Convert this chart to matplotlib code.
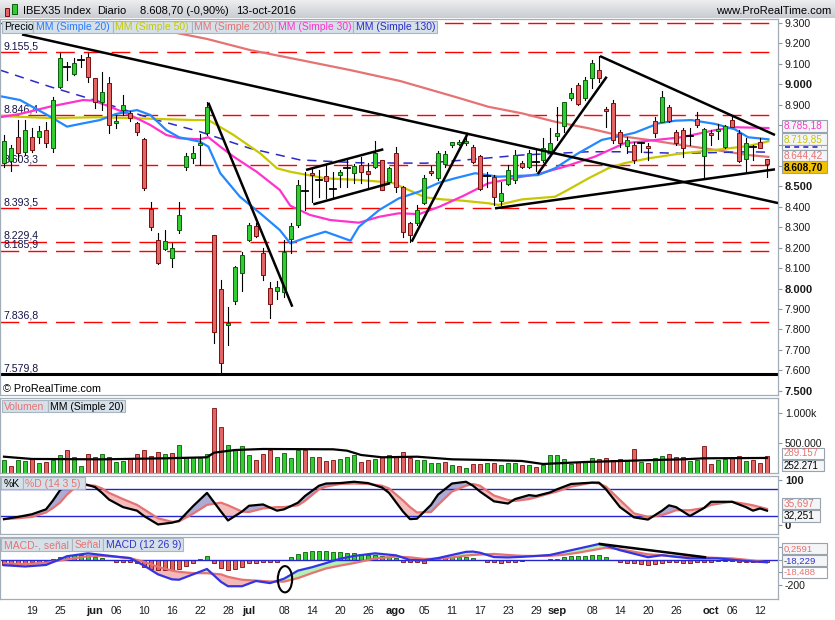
import matplotlib
matplotlib.use('Agg')
import matplotlib.pyplot as plt
from matplotlib.patches import Rectangle, Ellipse
from matplotlib.colors import LinearSegmentedColormap
import numpy as np
import pandas as pd

plt.rcParams['font.family'] = ['Liberation Sans', 'DejaVu Sans']

# ---------------- DATA ----------------
dates = pd.bdate_range('2016-05-13', '2016-10-13')

opens = [8613,8626,8743,8670,8743,8740,8776,8686,8988,9088,
         9050,9115,9134,9028,8914,9004,8808,8873,8857,8808,
         8732,8389,8237,8193,8148,8286,8593,8637,8700,8759,
         8262,8000,7820,7940,8077,8237,8306,8172,8001,7989,
         7984,8240,8311,8470,8567,8525,8552,8490,8555,8585,
         8564,8604,8575,8596,8629,8522,8664,8498,8319,8319,
         8420,8575,8539,8609,8702,8705,8710,8691,8648,8545,
         8547,8430,8511,8531,8613,8596,8613,8629,8674,8746,
         8795,8931,8996,8931,9028,9069,8880,8906,8767,8697,
         8702,8705,8697,8820,8816,8889,8764,8775,8740,8827,
         8648,8762,8770,8694,8824,8759,8632,8690,8718,8634]
highs = [8751,8702,8825,8825,8784,8795,8816,8939,9151,9110,
         9126,9142,9151,9030,9061,9037,8849,8947,8870,8816,
         8735,8422,8270,8286,8221,8422,8661,8697,8755,8914,
         8262,8042,7911,8110,8180,8320,8320,8197,8033,8038,
         8237,8320,8531,8571,8588,8579,8604,8571,8580,8629,
         8611,8645,8613,8723,8629,8595,8690,8502,8327,8409,
         8555,8600,8672,8672,8718,8725,8751,8700,8655,8571,
         8555,8521,8604,8678,8622,8678,8678,8735,8783,8890,
         8914,8983,9004,9037,9118,9139,8890,8922,8775,8740,
         8718,8718,8710,8841,8968,8897,8775,8784,8784,8865,
         8784,8775,8803,8800,8840,8775,8735,8700,8735,8634]
lows = [8596,8577,8629,8653,8670,8710,8694,8670,8980,9020,
        9045,9085,9012,8882,8873,8760,8784,8849,8820,8751,
        8482,8286,8120,8188,8104,8270,8580,8612,8604,8751,
        7735,7585,7724,7925,7988,8230,8250,8042,7854,7951,
        7960,8172,8302,8384,8425,8449,8441,8441,8495,8498,
        8516,8515,8489,8588,8482,8515,8474,8253,8229,8311,
        8415,8555,8530,8595,8690,8700,8702,8615,8480,8498,
        8408,8408,8505,8514,8590,8588,8575,8620,8665,8727,
        8767,8923,8898,8920,8980,9012,8790,8710,8694,8661,
        8613,8670,8630,8743,8816,8816,8700,8645,8700,8792,
        8539,8700,8730,8685,8790,8620,8571,8630,8690,8547]
closes = [8722,8686,8661,8776,8678,8771,8714,8922,9126,9084,
          9105,9118,9033,8914,8960,8800,8821,8898,8833,8767,
          8490,8299,8123,8234,8197,8360,8648,8664,8710,8889,
          7789,7637,7830,8104,8164,8311,8257,8066,7924,8006,
          8180,8305,8506,8475,8555,8530,8526,8486,8571,8590,
          8599,8571,8559,8661,8482,8588,8498,8278,8262,8384,
          8539,8564,8664,8658,8718,8715,8721,8620,8485,8550,
          8449,8466,8580,8653,8596,8661,8618,8686,8713,8762,
          8914,8955,8901,9020,9101,9028,8870,8727,8710,8727,
          8629,8712,8686,8759,8935,8821,8710,8686,8745,8800,
          8779,8751,8778,8795,8792,8625,8710,8694,8686,8609]

# moving averages (date index, value)
ma20_x = [-0.7,2.3,6.6,9,11.3,13.7,16,19,20.9,23.2,25,28,29.2,30.9,33.7,36.6,39.4,40.9,42.9,45.9,
          49.5,50.7,53.6,56.4,59.3,62.2,64.4,67.3,70.6,76.3,78.7,82,85.4,88.7,90.1,93.5,95.9,98.2,
          101.6,104.4,106.3,109.2]
ma20_v = [8942,8922,8841,8792,8808,8824,8854,8873,8849,8775,8740,8718,8694,8564,8449,8368,8286,8221,8246,8278,
          8234,8302,8384,8441,8474,8518,8539,8564,8547,8555,8588,8661,8727,8751,8762,8808,8821,8824,
          8805,8779,8740,8730]
ma50_x = [-0.6,6.6,13.7,18.6,27.2,29.2,32.8,36.6,39,40.9,45.9,50.7,55.4,57.8,60.2,62.6,65.4,69.2,70.6,
          74,78.7,80.1,83.5,86.3,88.6,92.1,96.8,101.6,106.3,109.2]
ma50_v = [8844,8834,8838,8833,8824,8824,8751,8661,8588,8571,8539,8531,8518,8482,8446,8436,8430,8417,8409,
          8436,8449,8474,8539,8588,8613,8637,8661,8678,8697,8720]
ma200_x = [16.6,24.7,29,35.1,42.3,49.4,56.6,64.4,69.2,74,78.7,83.5,88.6,92.1,96.8,101.6,106.3,109.2]
ma200_v = [9304,9250,9221,9167,9118,9069,9015,8938,8889,8857,8816,8784,8743,8727,8702,8678,8653,8644]
ma30_x = [-0.6,2.3,6.6,11.3,12.8,15.1,18,20.9,23.2,25.1,28,29.2,30.9,32.8,36.1,39.4,40.9,43.7,46.6,50.7,
          53.6,56.4,59.3,62.2,65.6,69.2,74,76.3,80.1,84.4,88.6,92.1,96.8,101.6,104.4,109.2]
ma30_v = [8838,8854,8890,8922,8919,8890,8849,8800,8751,8735,8730,8740,8694,8645,8571,8482,8405,8360,8335,8322,
          8351,8368,8364,8400,8453,8515,8547,8560,8596,8645,8710,8723,8740,8775,8789,8785]
ma130_x = [-0.6,6.6,13.7,20.9,28,35.1,42.3,50.7,60.2,65.9,74,83.5,88.3,96.8,106.3,109.2]
ma130_v = [9069,8987,8914,8833,8767,8686,8629,8615,8613,8629,8653,8669,8669,8661,8669,8667]

levels = [9300, 9155.5, 8846.4, 8603.3, 8393.5, 8229.4, 8185.9, 7836.8]
level_labels = ['', '9.155,5', '8.846,4', '8.603,3', '8.393,5', '8.229,4', '8.185,9', '7.836,8']
floor_level = 7579.8
floor_label = '7.579,8'

# hand-drawn trend lines: ((index, price), (index, price))
trendlines = [((2.57, 9243), (110.57, 8418)),
              ((29.19, 8909), (41.19, 7911)),
              ((43.14, 8580), (54.19, 8681)),
              ((44.19, 8412), (55.14, 8515)),
              ((58.24, 8229), (66.29, 8761)),
              ((76.24, 8560), (86.10, 9036)),
              ((85.14, 9137), (110.14, 8751)),
              ((70.14, 8392), (110.14, 8583))]

volume = [218,117,218,201,235,161,184,218,296,385,
          261,117,318,261,318,261,184,201,246,318,
          385,285,352,318,335,469,274,274,251,318,
          1083,765,469,385,452,302,218,318,385,261,
          335,246,385,385,261,261,201,218,235,261,
          296,184,218,235,261,296,274,352,251,218,
          218,161,161,184,140,117,84,151,151,161,
          161,134,161,173,134,134,95,134,296,296,
          229,151,184,201,246,229,246,218,229,201,
          396,184,161,246,279,318,261,261,201,218,
          447,151,218,240,261,279,201,218,161,289]   # thousands
vol_dir = ("GRGGRGRGGR" "GGRRGRGGRR" "RRRGRGGGGG" "RRGGGGRRRG" "GGGRGRRRGG" "GRRGRGRRRG"
           "GGGRGRGRRG" "RGGGRGRGGG" "GGRGGRRRRG" "RGRGGRRRGG" "RRGGRRGRRR")
vma_x = [0,4,14,23,29,30,33,37,47,49,51,54,59,64,69,74,77,79,83,88,93,97,100,109]
vma_v = [273,235,229,246,263,340,385,402,397,374,302,263,273,229,218,201,151,162,184,201,218,229,246,252]

st_x = [0,2,4,6,7,8,9,10,11,13,14,15,17,19,20,22,24,25,27,29,31,32,34,35,37,39,40,42,43,45,
        46,48,50,52,54,55,57,58,59,61,62,64,66,67,68,70,72,73,75,76,78,79,81,84,85,86,88,90,92,94,
        95,96,98,100,101,103,104,106,107,108,109]
st_k = [13,18,24,35,55,78,90,95,94,85,72,57,40,32,20,1,5,9,42,72,30,10,30,43,46,32,35,50,65,88,
        93,94,97,94,84,72,30,13,14,45,68,93,97,88,75,53,48,58,67,65,73,80,92,95,95,80,40,17,12,32,
        44,40,20,38,52,52,52,40,32,37,32]
st_d = [13,15,18,28,38,50,68,82,90,88,82,72,58,45,35,15,7,8,25,45,50,44,30,29,37,40,40,44,54,80,
        86,92,93,92,88,82,55,40,28,29,45,75,88,92,88,66,56,54,58,62,71,75,86,95,93,86,56,26,18,22,
        27,33,33,38,45,50,52,47,44,40,36]

mc_x = [0,3,6,9,12,14,16,18,20,22,24,25,27,29,31,32,34,36,38,40,42,44,46,48,50,53,56,58,60,62,
        64,66,67,68,70,72,74,76,78,80,82,84,85,86,88,90,92,94,96,98,100,102,104,106,108,109]
macd = [-42,-52,-40,30,53,40,27,15,-45,-115,-155,-158,-115,-72,-175,-210,-210,-168,-185,-150,
        -85,-58,-25,10,32,53,37,0,-3,15,40,65,67,58,23,20,25,32,40,65,90,115,128,115,78,50,22,38,25,13,
        13,13,2,-8,-15,-18]
signal = [-28,-32,-22,5,30,32,25,15,-15,-55,-85,-95,-105,-106,-115,-135,-158,-165,-172,-173,
          -145,-105,-68,-45,-25,12,27,21,8,10,20,35,40,43,48,40,33,32,33,42,58,78,88,98,85,66,45,38,28,24,
          21,16,13,2,-12,-18]
hist = [-40,-32,-27,-21,-16,-13,-5,8,21,32,
        37,40,40,21,13,0,-13,-13,-19,-27,
        -53,-75,-80,-80,-80,-75,-48,-27,5,32,
        -27,-67,-80,-75,-53,-27,-21,-19,-19,-13,
        0,21,48,64,72,75,72,67,61,53,
        53,48,40,40,32,27,16,-13,-16,-19,
        -21,-3,5,13,21,21,21,13,0,-13,
        -16,-21,-16,-13,-11,-3,-3,2,5,8,
        21,32,29,32,37,37,21,0,-16,-21,
        -27,-32,-40,-32,-21,-16,-16,-21,-21,-16,
        -16,-13,-11,-11,-11,-16,-16,-16,-16,-19]
macd_trend = ((85.14, 128), (100.14, 22))
macd_circle = (40.14, -154)

tick_dates = ['2016-05-19','2016-05-25','2016-06-01','2016-06-06','2016-06-10','2016-06-16',
              '2016-06-22','2016-06-28','2016-07-01','2016-07-08','2016-07-14','2016-07-20',
              '2016-07-26','2016-08-01','2016-08-05','2016-08-11','2016-08-17','2016-08-23',
              '2016-08-29','2016-09-01','2016-09-08','2016-09-14','2016-09-20','2016-09-26',
              '2016-10-03','2016-10-06','2016-10-12']
tick_labels = ['19','25','jun','06','10','16','22','28','jul','08','14','20','26','ago','05','11',
               '17','23','29','sep','08','14','20','26','oct','06','12']
months = {'jun','jul','ago','sep','oct'}
hidden_price_ticks = {8600, 8700, 8800}   # covered by the value boxes in the original

# ---------------- FIGURE ----------------
W, H = 835, 620
fig = plt.figure(figsize=(W/100, H/100), dpi=100)
fig.patch.set_facecolor('white')
n = len(closes)
idx = np.arange(n)
XL = (-4/7, 774/7)

GREEN, GREEN_E = '#33CC33', '#0B5E0B'
RED, RED_E = '#E26464', '#7A0E0E'
SALMON = '#E57373'

def add_ax(x0, y0, x1, y1):
    return fig.add_axes([x0/W, 1 - y1/H, (x1-x0)/W, (y1-y0)/H])

def style(ax):
    ax.set_xlim(*XL)
    ax.set_facecolor('white')
    for s in ax.spines.values():
        s.set_color('#A3ADB7'); s.set_linewidth(0.9)
    ax.yaxis.tick_right()
    ax.tick_params(axis='y', length=3, width=0.8, color='#8E98A2', pad=2,
                   labelsize=7.6, labelcolor='#1A1A1A')
    ax.tick_params(axis='x', length=0, labelbottom=False)

zc = [10]
def fig_rect(x0, y0, x1, y1, fc, ec='#A7B1BB', lw=0.8):
    zc[0] += 1
    fig.add_artist(Rectangle((x0/W, 1-y1/H), (x1-x0)/W, (y1-y0)/H, transform=fig.transFigure,
                             fc=fc, ec=ec, lw=lw, zorder=zc[0]))

def fig_text(x, y, s, **kw):
    zc[0] += 1
    kw.setdefault('fontsize', 7.5)
    kw.setdefault('va', 'center')
    fig.text(x/W, 1-y/H, s, zorder=zc[0], **kw)

def tabs(y0, y1, items):
    for x0, x1, s, col in items:
        fig_rect(x0, y0, x1, y1, fc='#D5E0E9', ec='#A9B5C0')
        fig_text(x0 + 2.5, (y0+y1)/2 + 0.5, s, color=col, fontsize=7.5)

def vbox(y0, y1, s, col, fc='#F3F5F7', bold=False, x1=827, fs=7.2):
    fig_rect(782, y0, x1, y1, fc=fc, ec='#98A3AE')
    if s:
        fig_text(784, (y0+y1)/2 + 0.5, s, color=col, fontsize=fs,
                 fontweight='bold' if bold else 'normal')

# ---------- header ----------
axh = add_ax(0, 0, 835, 18)
axh.imshow(np.linspace(0, 1, 20).reshape(-1, 1), aspect='auto',
           cmap=LinearSegmentedColormap.from_list('h', ['#ECEDEF', '#C9CDD2']), extent=(0, 1, 0, 1))
axh.set_axis_off()
fig_rect(5, 8, 9, 16, fc=RED, ec=RED_E, lw=0.7)
fig_rect(12, 4, 16.5, 14, fc=GREEN, ec=GREEN_E, lw=0.7)
fig_text(23, 11, 'IBEX35 Index', color='black', fontsize=8)
fig_text(97, 11, 'Diario', color='black', fontsize=8)
fig_text(140, 11, '8.608,70 (-0,90%)', color='black', fontsize=8)
fig_text(236, 11, '13-oct-2016', color='black', fontsize=8)
fig_text(831, 11, 'www.ProRealTime.com', color='black', fontsize=8, ha='right')

# ---------- main price panel ----------
ax = add_ax(0, 19, 778, 395)
style(ax)
ax.set_ylim(7479, 9318.5)
pt = list(range(7500, 9301, 100))
ax.set_yticks(pt)
ax.set_yticklabels(['' if t in hidden_price_ticks else f"{t//1000}.{t % 1000:03d}" for t in pt])
for lab, t in zip(ax.get_yticklabels(), pt):
    if t % 500 == 0:
        lab.set_fontweight('bold'); lab.set_fontsize(8)

ytr = ax.get_yaxis_transform()
for lv, lb in zip(levels, level_labels):
    ax.plot(XL, [lv, lv], color='#FF0000', lw=1.0, dashes=(13.5, 6.5), zorder=1.5)
    if lb:
        ax.text(0.004, lv + 5, lb, transform=ytr, va='bottom', ha='left', fontsize=7.6,
                color='#14144A', zorder=2)
ax.plot(XL, [floor_level, floor_level], color='black', lw=2.2, zorder=1.6)
ax.text(0.004, floor_level + 5, floor_label, transform=ytr, va='bottom', ha='left', fontsize=7.6,
        color='#14144A', zorder=2)

ax.plot(ma200_x, ma200_v, color='#E57373', lw=1.6, zorder=2.2)
ax.plot(ma130_x, ma130_v, color='#2B2BC8', lw=1.1, dashes=(6, 4.5), zorder=2.2)
ax.plot(ma50_x, ma50_v, color='#C8C800', lw=1.6, zorder=2.3)
ax.plot(ma30_x, ma30_v, color='#FF33CC', lw=1.6, zorder=2.3)
ax.plot(ma20_x, ma20_v, color='#2288FF', lw=1.6, zorder=2.4)

for i in range(n):
    o, h, l, c = opens[i], highs[i], lows[i], closes[i]
    ax.plot([i, i], [l, h], color='black', lw=0.8, zorder=3)
    if abs(c - o) < 8:
        ax.plot([i - 0.36, i + 0.36], [c, c], color='black', lw=1.3, zorder=4)
    else:
        up = c > o
        ax.add_patch(Rectangle((i - 0.33, min(o, c)), 0.66, abs(c - o),
                               fc=GREEN if up else RED, ec=GREEN_E if up else RED_E,
                               lw=0.7, zorder=4))

for (x0, y0), (x1, y1) in trendlines:
    ax.plot([x0, x1], [y0, y1], color='black', lw=1.8, zorder=5, solid_capstyle='butt')

tabs(20.7, 33.3, [(1.7, 33.3, 'Precio', 'black'),
                  (33.3, 113, 'MM (Simple 20)', '#2A7BFF'),
                  (113, 192, 'MM (Simple 50)', '#C8C800'),
                  (192, 275, 'MM (Simple 200)', '#E57373'),
                  (275, 353, 'MM (Simple 30)', '#FF33CC'),
                  (353, 437, 'MM (Simple 130)', '#2B2BC8')])
fig_text(3, 389, '\u00a9 ProRealTime.com', color='black', fontsize=7.8)

vbox(119.5, 131.5, '8.785,18', '#FF33CC')
vbox(133, 145, '8.719,85', '#C8C800')
vbox(145, 149.5, '', '#2B2BC8')
fig.add_artist(plt.Line2D([785/W, 822/W], [1-147.2/H, 1-147.2/H], transform=fig.transFigure,
                          color='#2B2BC8', lw=1.2, dashes=(3, 2.5), zorder=zc[0] + 0.5))
vbox(149.5, 161, '8.644,42', '#E57373')
vbox(161, 173.5, '8.608,70', 'black', fc='#F2C200', bold=True)

# ---------- volume panel ----------
axv = add_ax(0, 398, 778, 473)
style(axv)
axv.set_ylim(0, 1256)
axv.set_yticks([500, 1000])
axv.set_yticklabels(['500.000', '1.000k'])
vc = [GREEN if d == 'G' else RED for d in vol_dir]
ve = [GREEN_E if d == 'G' else RED_E for d in vol_dir]
axv.bar(idx, volume, width=0.62, color=vc, edgecolor=ve, linewidth=0.6, zorder=2)
axv.plot(vma_x, vma_v, color='black', lw=1.6, zorder=3)
tabs(400, 412.3, [(1.7, 47.7, 'Volumen', '#E57373'), (47.7, 125, 'MM (Simple 20)', 'black')])
vbox(447.5, 458.5, '289.157', '#E57373', fc='white', x1=824, fs=7)
vbox(459.5, 471, '252.271', 'black', fc='#F3F5F7', x1=824, fs=7)

# ---------- stochastic panel ----------
axs = add_ax(0, 476, 778, 534)
style(axs)
axs.set_ylim(-20.4, 109.9)
axs.set_yticks([0, 100])
axs.set_yticklabels(['0', '100'])
for lab in axs.get_yticklabels():
    lab.set_fontweight('bold'); lab.set_fontsize(8)
sk = np.array(st_k, float); sd = np.array(st_d, float)
axs.fill_between(st_x, sk, sd, where=sk >= sd, interpolate=True, color='#ABABD6', lw=0, zorder=1)
axs.fill_between(st_x, sk, sd, where=sk < sd, interpolate=True, color='#F4BDBD', lw=0, zorder=1)
axs.axhline(80, color='#2424D0', lw=1.0, zorder=1.5)
axs.axhline(20, color='#2424D0', lw=1.0, zorder=1.5)
axs.plot(st_x, st_d, color=SALMON, lw=1.6, zorder=2)
axs.plot(st_x, st_k, color='black', lw=1.6, zorder=3)
tabs(477.3, 489.3, [(1, 22.7, '%K', 'black'), (22.7, 85, '%D (14 3 5)', '#E57373')])
vbox(497.5, 508.5, '35,697', '#E57373', x1=820)
vbox(509.5, 521.5, '32,251', 'black', x1=820)

# ---------- MACD panel ----------
axm = add_ax(0, 536.7, 778, 599)
style(axm)
axm.set_ylim(-312, 186)
axm.set_yticks([-200, -100, 0, 100])
axm.set_yticklabels(['-200', '', '', ''])
hc = [GREEN if v >= 0 else RED for v in hist]
he = [GREEN_E if v >= 0 else RED_E for v in hist]
axm.bar(idx, hist, width=0.62, color=hc, edgecolor=he, linewidth=0.6, zorder=2)
mv = np.array(macd, float); sv = np.array(signal, float)
axm.fill_between(mc_x, mv, sv, where=mv >= sv, interpolate=True, color='#B4F0B4', lw=0, zorder=1)
axm.fill_between(mc_x, mv, sv, where=mv < sv, interpolate=True, color='#F4B8B8', lw=0, zorder=1)
axm.axhline(0, color='#2424D0', lw=1.0, zorder=2.5)
axm.plot(mc_x, signal, color=SALMON, lw=1.6, zorder=3)
axm.plot(mc_x, macd, color='#3333E6', lw=1.6, zorder=3.5)
(tx0, ty0), (tx1, ty1) = macd_trend
axm.plot([tx0, tx1], [ty0, ty1], color='black', lw=1.8, zorder=4)
axm.add_patch(Ellipse(macd_circle, width=2.05, height=210, fill=False, ec='black', lw=1.5, zorder=4))
tabs(538.3, 550.7, [(1, 71.7, 'MACD-, se\u00f1al', '#E57373'), (71.7, 103, 'Se\u00f1al', '#E57373'),
                    (103, 183, 'MACD (12 26 9)', '#3333CC')])
vbox(543, 554, '0,2591', '#E57373', fs=6.8)
vbox(555, 566, '-18,229', '#3333CC', fs=6.8)
vbox(566.5, 578, '-18,488', '#E57373', fc='white', fs=6.8)

pos = dates.get_indexer(pd.to_datetime(tick_dates))
axm.set_xticks(pos)
axm.set_xticklabels(tick_labels)
axm.tick_params(axis='x', labelbottom=True, length=0, pad=5, labelsize=7.6, labelcolor='#1A1A1A')
for lab, s in zip(axm.get_xticklabels(), tick_labels):
    if s in months:
        lab.set_fontweight('bold'); lab.set_fontsize(8)

fig.savefig('out.png', dpi=100, facecolor='white')
